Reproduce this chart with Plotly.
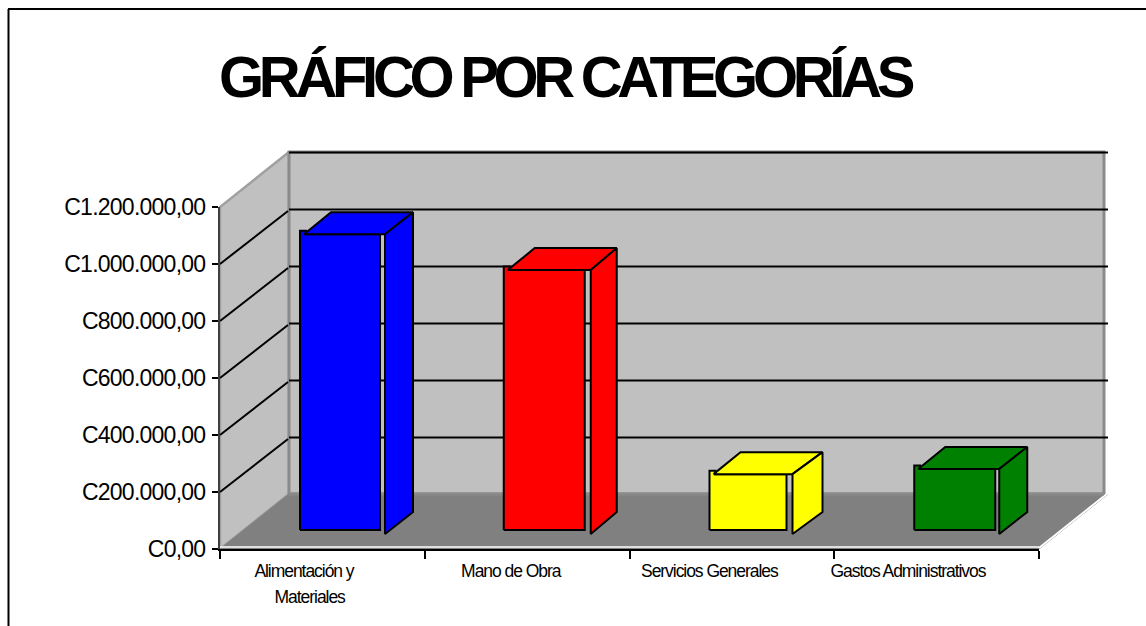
import plotly.graph_objects as go

# ---- data ----
categories = ["Alimentación y|Materiales", "Mano de Obra", "Servicios Generales", "Gastos Administrativos"]
values = [1038000, 912000, 196000, 214000]
colors = ["#0000ff", "#ff0000", "#ffff00", "#008000"]
y_ticks = [0, 200000, 400000, 600000, 800000, 1000000, 1200000]
y_labels = ["C0,00", "C200.000,00", "C400.000,00", "C600.000,00", "C800.000,00", "C1.000.000,00", "C1.200.000,00"]
label_pos = [0.41, 1.42, 2.39, 3.36]
title = "GRÁFICO POR CATEGORÍAS"

W, H = 1146, 626
X0, X1, Y0, Y1 = 220, 1039, 549, 207       # pixel frame of the front plane
UX = (X1 - X0) / 4                          # px per category
UY = (Y0 - Y1) / 1200000                    # px per currency unit
dx = lambda px: px / UX
dy = lambda px: px / UY
DX, DY = dx(69), dy(55)                     # depth of the 3-D box

BLACK = "#000000"
WALL = "#c0c0c0"
FLOOR = "#808080"
EDGE = "#8a8a8a"

fig = go.Figure()


def poly(xs, ys, fill, line=BLACK, width=2):
    fig.add_trace(go.Scatter(x=xs, y=ys, mode="lines", fill="toself", fillcolor=fill,
                             line=dict(color=line, width=width), hoverinfo="skip",
                             showlegend=False, xaxis="x", yaxis="y"))


def seg(xs, ys, color=BLACK, width=2):
    fig.add_trace(go.Scatter(x=xs, y=ys, mode="lines", line=dict(color=color, width=width),
                             hoverinfo="skip", showlegend=False, xaxis="x", yaxis="y"))


top_value = y_ticks[-1]
wall_right = 4 + DX - dx(4)
# walls
poly([0, DX, DX, 0, 0], [0, DY, top_value + DY, top_value, 0], WALL, "#a0a0a0", 2.5)
poly([DX, wall_right, wall_right, DX, DX], [DY, DY, top_value + DY, top_value + DY, DY], WALL, EDGE, 3)

# gridlines
for t in y_ticks[1:]:
    if t < top_value:
        seg([0, DX - dx(1)], [t, t + DY - dy(2)])
    seg([DX, 4 + DX], [t + DY - dy(0.5), t + DY - dy(0.5)])

# floor
poly([0, 4, 4 + DX, DX, 0], [0, 0, DY, DY, 0], FLOOR, FLOOR, 1)
seg([4, 4 + DX], [dy(1), DY + dy(1)], "#ffffff", 2)
seg([0, 4], [dy(2), dy(2)], "#ffffff", 1.5)
seg([DX, wall_right], [DY, DY], EDGE, 3)

# bars: per-bar pixel offsets of the faces, as drawn by the original
face_start = [80, 79, 80, 80]
face_width = [80, 81, 77, 81]
side_start = [85, 87, 83, 85]
side_end = [113, 113, 113, 113]
LIFT = dy(19)
for i, (v, c) in enumerate(zip(values, colors)):
    x0 = i + dx(face_start[i])
    w = dx(face_width[i])
    gap = dx(side_start[i])
    sd, tp = dx(side_end[i]), dy(22)
    base, top = LIFT, LIFT + v
    # front face, with the small step the original leaves at its top-left corner
    poly([x0, x0, x0 + dx(6), x0 + dx(6), x0 + w, x0 + w, x0],
         [base, top + dy(3.5), top + dy(3.5), top, top, base, base], c)
    # top face
    poly([x0 + dx(4), x0 + dx(31), x0 + sd, x0 + gap, x0 + dx(4)],
         [top, top + tp, top + tp, top, top], c)
    # side face
    poly([x0 + gap, x0 + sd, x0 + sd, x0 + gap, x0 + gap],
         [top, top + tp, base + tp - dy(4), base - dy(4), top], c)

# real axes on top of the 3-D drawing
tick_text = []
for name in categories:
    parts = name.split("|")
    if len(parts) > 1:
        parts[1] = "\u00a0\u00a0\u00a0" + parts[1]
    tick_text.append("<br>".join(
        f'<span style="font-size:17.5px;letter-spacing:-1.05px">{p}</span>' for p in parts))
y_text = [f'<span style="letter-spacing:-0.75px">{t}</span>' for t in y_labels]

fig.add_trace(go.Scatter(x=label_pos, y=values, mode="none", hoverinfo="skip",
                         showlegend=False, xaxis="x2", yaxis="y2"))

fig.update_layout(
    width=W, height=H,
    margin=dict(l=0, r=0, t=0, b=0),
    paper_bgcolor="#ffffff", plot_bgcolor="rgba(0,0,0,0)",
    showlegend=False,
    font=dict(family="Liberation Sans, Arial, sans-serif", color=BLACK),
    xaxis=dict(range=[-X0 / UX, (W - X0) / UX], domain=[0, 1], visible=False, fixedrange=True,
               automargin=False),
    yaxis=dict(range=[-(H - Y0) / UY, Y0 / UY], domain=[0, 1], visible=False, fixedrange=True,
               automargin=False),
    xaxis2=dict(anchor="y2", domain=[X0 / W, X1 / W], range=[0, 4], automargin=False,
                tickmode="array", tickvals=label_pos, ticktext=tick_text, tickangle=0,
                ticks="", ticklen=0, ticklabelstandoff=2, showgrid=False, showline=True,
                linecolor=BLACK, linewidth=2, zeroline=False, tickfont=dict(size=20, color=BLACK),
                minor=dict(tickmode="array", tickvals=[0, 1, 2, 3, 4], ticks="outside",
                           ticklen=8, tickwidth=2, tickcolor=BLACK, showgrid=False)),
    yaxis2=dict(anchor="x2", domain=[(H - Y0) / H, (H - Y1) / H], automargin=False,
                range=[0, top_value], tickmode="array", tickvals=y_ticks, ticktext=y_text,
                ticks="outside", ticklen=6, tickwidth=2, tickcolor=BLACK, showgrid=False,
                ticklabelstandoff=2, showline=True, linecolor="#404040", linewidth=2, zeroline=False,
                tickfont=dict(size=23, color=BLACK)),
    shapes=[
        dict(type="line", xref="paper", yref="paper", x0=8.5 / W, x1=8.5 / W, y0=0, y1=1 - 9 / H,
             line=dict(color=BLACK, width=2)),
        dict(type="line", xref="paper", yref="paper", x0=8 / W, x1=1, y0=1 - 9 / H, y1=1 - 9 / H,
             line=dict(color=BLACK, width=2)),
    ],
    annotations=[
        dict(text=f'<span style="letter-spacing:-5.3px">{title}</span>', xref="paper", yref="paper",
             x=566 / W, y=1 - 76 / H, xanchor="center", yanchor="middle", showarrow=False,
             font=dict(size=58, color=BLACK, family="Liberation Sans, Arial, sans-serif", weight="bold")),
    ],
)

fig.write_html("out.html", config=dict(displayModeBar=False),
               post_script="document.body.style.margin='0';document.body.style.overflow='hidden';")
